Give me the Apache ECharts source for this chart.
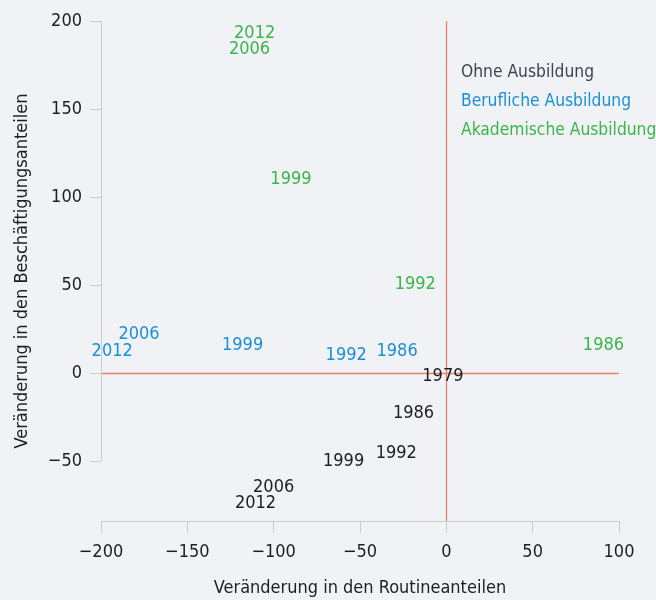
<!DOCTYPE html>
<html>
<head>
<meta charset="utf-8">
<script src="https://cdn.jsdelivr.net/npm/echarts@6/dist/echarts.min.js"></script>
<style>
  html, body { margin: 0; padding: 0; background: #f1f2f6; }
  #chart { width: 656px; height: 600px; }
</style>
</head>
<body>
<div id="chart"></div>
<script>
// Punkte: [Routine, Beschäftigung, Jahr]
const ohne = [
  [-2, -2, '1979'],
  [-19, -23, '1986'],
  [-29, -45.5, '1992'],
  [-59.5, -50, '1999'],
  [-100, -65, '2006'],
  [-110.5, -74, '2012'],
]
const beruflich = [
  [-28.5, 12.5, '1986'],
  [-58, 10, '1992'],
  [-118, 16, '1999'],
  [-178, 22, '2006'],
  [-193.5, 12.5, '2012'],
]
const akademisch = [
  [91, 16, '1986'],
  [-18, 50.5, '1992'],
  [-90, 110, '1999'],
  [-114, 184, '2006'],
  [-111, 193, '2012'],
]
const seriesNames = ['Ohne Ausbildung', 'Berufliche Ausbildung', 'Akademische Ausbildung']
const colors = ['#3b4550', '#1b8fd5', '#3cb54a']
const labelColors = ['#1e1e1e', '#1b8fd5', '#3cb54a']
const yTicks = [-50, 0, 50, 100, 150, 200]

const font = '"DejaVu Sans Condensed", "Liberation Sans Narrow", sans-serif'
const myChart = echarts.init(document.getElementById('chart'))

const makeSeries = (name, data, i) => ({
  name: name,
  type: 'scatter',
  data: data,
  symbolSize: 1,
  itemStyle: { color: colors[i], opacity: 0 },
  label: {
    show: true,
    position: 'inside',
    formatter: (p) => p.data[2],
    color: labelColors[i],
    opacity: 1,
    fontSize: 18,
    fontFamily: font,
  },
  emphasis: { disabled: true },
  z: 5,
})

const series = [ohne, beruflich, akademisch].map((d, i) => makeSeries(seriesNames[i], d, i))
// Nulllinien + verkürzte y-Achsenlinie
series.push({
  type: 'scatter',
  data: [],
  markLine: {
    silent: true,
    symbol: 'none',
    label: { show: false },
    lineStyle: { color: '#e8836f', width: 1.3, type: 'solid' },
    data: [
      { xAxis: 0 },
      { yAxis: 0 },
      [
        { coord: [-200, -50], lineStyle: { color: '#c9cbd0', width: 1 } },
        { coord: [-200, 200] },
      ],
    ],
  },
})

const option = {
  backgroundColor: '#f1f2f6',
  textStyle: { fontFamily: font },
  grid: { left: 101, right: 37, top: 21, bottom: 79, containLabel: false, outerBoundsMode: 'none' },
  legend: {
    orient: 'vertical',
    left: 451,
    top: 59,
    icon: 'none',
    itemWidth: 0,
    itemGap: 12,
    selectedMode: false,
    textStyle: { fontSize: 17.3, fontFamily: font },
    data: seriesNames.map((n, i) => ({ name: n, itemStyle: { opacity: 0 }, textStyle: { color: colors[i] } })),
  },
  xAxis: {
    type: 'value',
    min: -200,
    max: 100,
    interval: 50,
    name: 'Veränderung in den Routineanteilen',
    nameLocation: 'middle',
    nameGap: 58,
    nameTextStyle: { fontSize: 18, color: '#1e1e1e', fontFamily: font },
    axisLine: { show: true, onZero: false, lineStyle: { color: '#c9cbd0' } },
    axisTick: { show: true, length: 12, lineStyle: { color: '#c9cbd0' } },
    axisLabel: {
      margin: 22,
      fontSize: 18,
      color: '#1e1e1e',
      fontFamily: font,
      formatter: (v) => String(v).replace('-', '\u2212'),
    },
    splitLine: { show: false },
  },
  yAxis: {
    type: 'value',
    min: -84,
    max: 200,
    name: 'Veränderung in den Beschäftigungsanteilen',
    nameLocation: 'middle',
    nameGap: 70,
    nameTextStyle: { fontSize: 18, color: '#1e1e1e', fontFamily: font },
    axisLine: { show: false, onZero: false },
    axisTick: { show: true, length: 11, customValues: yTicks, lineStyle: { color: '#c9cbd0' } },
    axisLabel: {
      margin: 19,
      fontSize: 18,
      color: '#1e1e1e',
      fontFamily: font,
      customValues: yTicks,
      formatter: (v) => String(v).replace('-', '\u2212'),
    },
    splitLine: { show: false },
  },
  series: series,
}

option && myChart.setOption(option)
window.addEventListener('resize', function () {
  myChart.resize()
})
</script>
</body>
</html>
